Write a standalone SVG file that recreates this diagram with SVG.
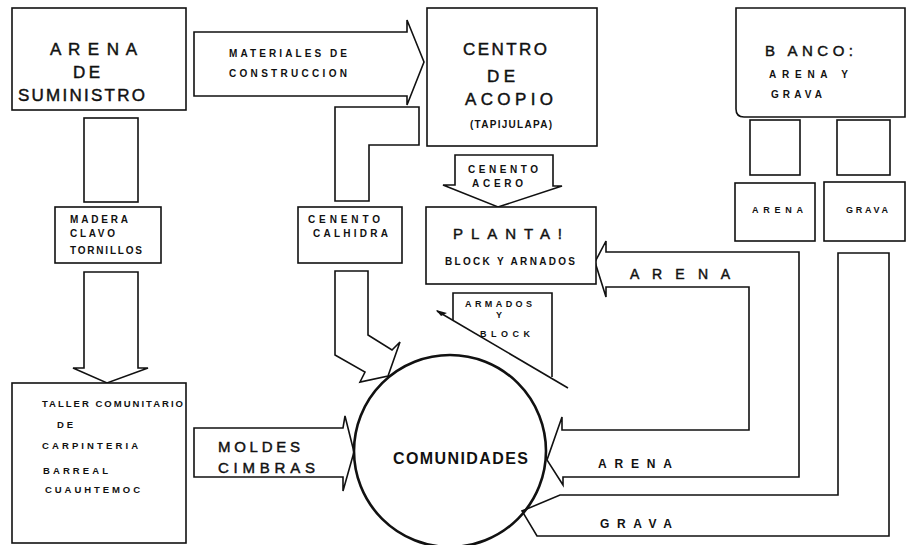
<svg xmlns="http://www.w3.org/2000/svg" width="907" height="545" viewBox="0 0 907 545">
<style>
.b{fill:#fff;stroke:#111;stroke-width:1.6;stroke-linejoin:miter}
.o{fill:none;stroke:#111;stroke-width:1.6}
text{font-family:"Liberation Sans",Arial,sans-serif;fill:#111}
.L{font-size:17px;stroke:#111;stroke-width:0.45}
.M{font-size:15px;stroke:#111;stroke-width:0.45}
.s{font-size:10px;font-weight:bold}
.t{font-size:9px;font-weight:bold}
</style>
<rect width="907" height="545" fill="#fff"/>

<g id="connectors">
  <g id="c-materiales">
    <polygon class="b" points="194,32 407,32 407,20 424,62 407,105 407,96 194,96"/>
    <text class="s" x="229" y="57" textLength="118" lengthAdjust="spacing">MATERIALES DE</text>
    <text class="s" x="229" y="77" textLength="118" lengthAdjust="spacing">CONSTRUCCION</text>
  </g>
  <g id="c-madera">
    <rect class="b" x="84" y="118" width="54" height="84"/>
    <rect class="b" x="55" y="207" width="106" height="56"/>
    <text class="s" x="70" y="223" textLength="58" lengthAdjust="spacing">MADERA</text>
    <text class="s" x="70" y="237" textLength="45" lengthAdjust="spacing">CLAVO</text>
    <text class="s" x="70" y="254" textLength="72" lengthAdjust="spacing">TORNILLOS</text>
    <polygon class="b" points="84,272 138,272 138,368 148,368 107,383 73,368 84,368"/>
  </g>
  <g id="c-cemento-calhidra">
    <polygon class="b" points="335,107 419,107 419,145 369,145 369,201 335,201"/>
    <rect class="b" x="298" y="207" width="104" height="56"/>
    <text class="s" x="308" y="223" textLength="72" lengthAdjust="spacing">CENENTO</text>
    <text class="s" x="313" y="237" textLength="75" lengthAdjust="spacing">CALHIDRA</text>
    <polygon class="b" points="335,271 368,271 368,335 392,350 400,342 388,376 360,382 365,372 335,355"/>
  </g>
  <g id="c-cemento-acero">
    <polygon class="b" points="455,155 553,155 553,186 562,186 498,207 443,185 455,185"/>
    <text class="s" x="468" y="173" textLength="70" lengthAdjust="spacing">CENENTO</text>
    <text class="s" x="472" y="187" textLength="51" lengthAdjust="spacing">ACERO</text>
  </g>
  <g id="c-banco-stems">
    <rect class="b" x="750" y="120" width="50" height="55"/>
    <rect class="b" x="837" y="120" width="53" height="55"/>
  </g>
  <g id="c-armados">
    <polyline class="o" points="453,320 453,293 552,293 552,377"/>
    <line class="o" x1="437" y1="311" x2="568" y2="388"/>
    <polygon fill="#111" points="436,310 447,313 441,316"/>
    <text class="t" x="465" y="307" textLength="67" lengthAdjust="spacing">ARMADOS</text>
    <text class="t" x="496" y="318">Y</text>
    <text class="t" x="480" y="337" textLength="50" lengthAdjust="spacing">BLOCK</text>
  </g>
  <g id="c-arena">
    <polygon class="b" points="606,252 799,252 799,477 563,477 563,485 547,460 562,417 562,430 749,430 749,287 606,287 606,297 595,262 606,241"/>
    <text class="L" style="font-size:14px" x="630" y="279" textLength="100" lengthAdjust="spacing">A R E N A</text>
    <text style="font-size:12px;font-weight:bold" x="598" y="468" textLength="74" lengthAdjust="spacing">ARENA</text>
  </g>
  <g id="c-grava">
    <polygon class="b" points="838,253 889,253 889,536 537,536 522,511 560,495 838,495"/>
    <text style="font-size:12px;font-weight:bold" x="600" y="528" textLength="72" lengthAdjust="spacing">GRAVA</text>
  </g>
  <g id="c-moldes">
    <polygon class="b" points="194,428 343,428 345,416 354,452 343,491 343,477 194,477"/>
    <text class="M" x="218" y="452" textLength="82" lengthAdjust="spacing">MOLDES</text>
    <text class="M" x="218" y="473" textLength="97" lengthAdjust="spacing">CIMBRAS</text>
  </g>
</g>

<g id="arena-suministro">
  <rect class="b" x="12" y="8" width="174" height="102"/>
  <text class="L" x="50" y="55" textLength="87" lengthAdjust="spacing">A R E N A</text>
  <text class="L" x="73" y="78" textLength="27" lengthAdjust="spacing">D E</text>
  <text class="L" x="18" y="101" textLength="127" lengthAdjust="spacing">SUMINISTRO</text>
</g>

<g id="centro-acopio">
  <rect class="b" x="427" y="8" width="170" height="138"/>
  <text class="L" x="463" y="55" textLength="84" lengthAdjust="spacing">CENTRO</text>
  <text class="L" x="487" y="82" textLength="28" lengthAdjust="spacing">DE</text>
  <text class="L" x="465" y="105" textLength="88" lengthAdjust="spacing">ACOPIO</text>
  <text class="s" x="470" y="128" textLength="82" lengthAdjust="spacing">(TAPIJULAPA)</text>
</g>

<g id="banco">
  <path class="b" d="M736,8 H905 V117 H744 Q736,117 736,109 Z"/>
  <text class="M" x="765" y="56" textLength="88" lengthAdjust="spacing">B ANCO:</text>
  <text class="s" x="769" y="78" textLength="79" lengthAdjust="spacing">ARENA Y</text>
  <text class="s" x="771" y="98" textLength="51" lengthAdjust="spacing">GRAVA</text>
</g>

<g id="arena-box">
  <rect class="b" x="735" y="183" width="80" height="58"/>
  <text class="t" x="752" y="213" textLength="51" lengthAdjust="spacing">ARENA</text>
</g>

<g id="grava-box">
  <rect class="b" x="824" y="182" width="81" height="59"/>
  <text class="t" x="846" y="213" textLength="42" lengthAdjust="spacing">GRAVA</text>
</g>

<g id="planta">
  <rect class="b" x="426" y="207" width="170" height="77"/>
  <text class="M" x="453" y="239" textLength="109" lengthAdjust="spacing">PLANTA!</text>
  <text class="s" x="445" y="265" textLength="130" lengthAdjust="spacing">BLOCK Y ARNADOS</text>
</g>

<g id="taller">
  <rect class="b" x="12" y="383" width="174" height="160"/>
  <text class="t" style="font-size:9.5px" x="42" y="407" textLength="141" lengthAdjust="spacing">TALLER COMUNITARIO</text>
  <text class="t" style="font-size:9.5px" x="57" y="428" textLength="16" lengthAdjust="spacing">D E</text>
  <text class="t" style="font-size:9.5px" x="42" y="449" textLength="96" lengthAdjust="spacing">CARPINTERIA</text>
  <text class="t" style="font-size:9.5px" x="43" y="474" textLength="65" lengthAdjust="spacing">BARREAL</text>
  <text class="t" style="font-size:9.5px" x="45" y="493" textLength="95" lengthAdjust="spacing">CUAUHTEMOC</text>
</g>

<g id="comunidades">
  <circle cx="450" cy="451" r="96" fill="none" stroke="#111" stroke-width="2.6"/>
  <text style="font-size:16px;font-weight:bold" x="393" y="464" textLength="135" lengthAdjust="spacing">COMUNIDADES</text>
</g>
</svg>
